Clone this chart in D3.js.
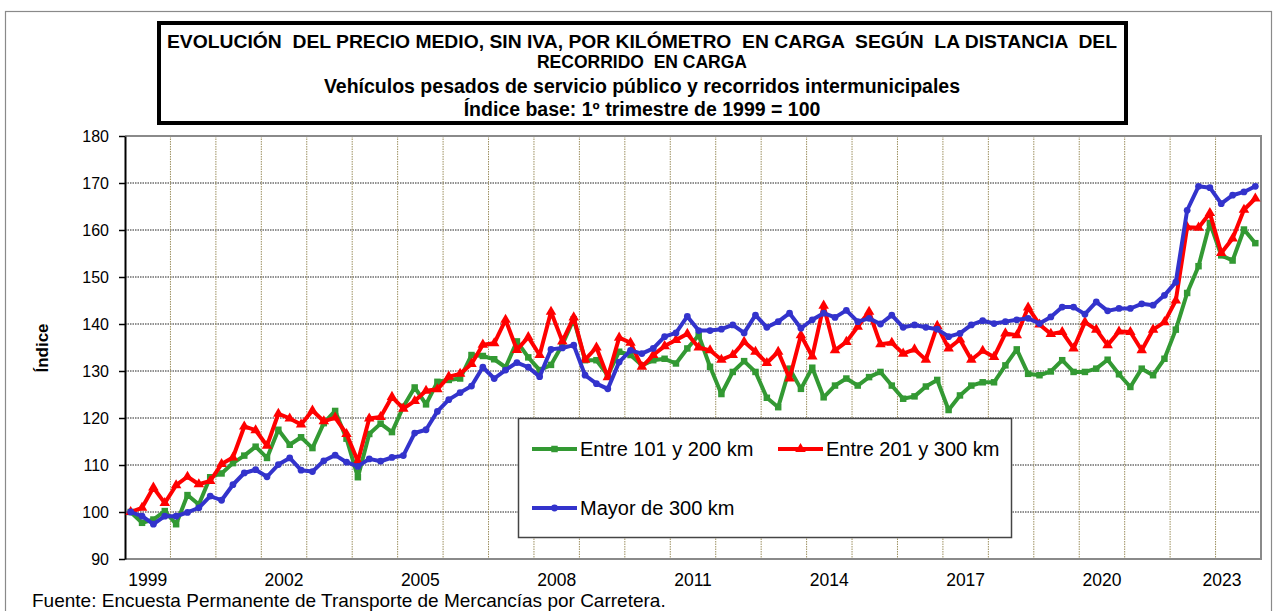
<!DOCTYPE html>
<html>
<head>
<meta charset="utf-8">
<script src="https://cdn.jsdelivr.net/npm/d3@7"></script>
<style>
  body { margin: 0; background: #fff; }
  svg { display: block; }
  text { font-family: Arial, "Liberation Sans", sans-serif; }
  .title { white-space: pre; }
</style>
</head>
<body>
<svg id="chart" width="1277" height="611"></svg>
<script>
// Years and quarters of the series (1999 T1 – 2023 T4)
const years = [1999, 2000, 2001, 2002, 2003, 2004, 2005, 2006, 2007, 2008, 2009, 2010,
               2011, 2012, 2013, 2014, 2015, 2016, 2017, 2018, 2019, 2020, 2021, 2022, 2023];
const quarterNames = ["T1", "T2", "T3", "T4"];
const tickYears = [1999, 2002, 2005, 2008, 2011, 2014, 2017, 2020, 2023];
const yTicks = [90, 100, 110, 120, 130, 140, 150, 160, 170, 180];

// Price index per km, base 1999 T1 = 100
const between101and200 = [
  100.0, 97.7, 98.4, 100.2, 97.4, 103.6, 101.6, 107.4, 108.2, 110.4,
  112.0, 113.9, 111.5, 117.5, 114.3, 115.9, 113.6, 118.9, 121.5, 115.6,
  107.4, 116.6, 118.8, 117.0, 122.4, 126.5, 122.9, 127.7, 128.1, 128.4,
  133.4, 133.2, 132.5, 130.8, 136.3, 132.9, 130.2, 131.3, 135.6, 141.0,
  132.3, 132.3, 129.1, 134.1, 133.4, 131.2, 132.3, 132.6, 131.6, 134.8,
  137.6, 130.9, 125.1, 129.8, 132.1, 129.8, 124.3, 122.3, 130.5, 126.2,
  130.7, 124.4, 126.9, 128.4, 126.9, 128.7, 129.8, 126.9, 124.1, 124.6,
  126.7, 128.1, 121.7, 124.8, 126.9, 127.6, 127.6, 131.2, 134.6, 129.4,
  129.1, 129.9, 132.3, 129.8, 129.8, 130.5, 132.4, 129.3, 126.6, 130.5,
  129.1, 132.6, 138.8, 146.6, 152.3, 161.5, 154.6, 153.5, 160.1, 157.2
];
const between201and300 = [
  100.0, 100.9, 105.2, 101.9, 105.7, 107.5, 105.9, 106.6, 110.2, 111.6,
  118.2, 117.4, 114.1, 120.9, 119.9, 118.6, 121.6, 119.3, 120.1, 116.6,
  110.8, 119.9, 120.2, 124.5, 122.0, 123.6, 125.8, 126.1, 128.8, 129.4,
  131.5, 135.6, 135.9, 140.9, 134.5, 137.2, 133.4, 142.6, 136.3, 141.4,
  132.4, 135.0, 128.7, 137.1, 136.0, 130.9, 133.4, 135.3, 136.6, 137.9,
  135.0, 134.4, 132.4, 133.4, 136.2, 134.1, 131.7, 134.1, 128.4, 137.6,
  133.1, 143.9, 134.4, 136.2, 139.4, 142.6, 135.7, 136.0, 133.7, 134.6,
  132.4, 139.6, 134.8, 136.7, 132.4, 134.3, 133.0, 138.0, 137.6, 143.5,
  139.9, 137.9, 138.3, 134.8, 140.4, 138.8, 135.5, 138.4, 138.3, 134.4,
  138.8, 140.4, 145.0, 160.6, 160.5, 163.6, 155.1, 158.2, 164.3, 166.7
];
const over300 = [
  100.0, 99.1, 97.4, 99.1, 99.1, 99.9, 100.9, 103.4, 102.5, 105.8,
  108.3, 109.0, 107.5, 110.1, 111.5, 108.9, 108.6, 110.9, 112.1, 110.6,
  109.7, 111.3, 110.8, 111.6, 112.0, 116.8, 117.5, 121.4, 123.9, 125.4,
  126.8, 130.8, 128.4, 130.2, 131.8, 130.8, 128.8, 134.6, 134.9, 135.5,
  129.1, 127.3, 126.2, 131.9, 134.4, 133.7, 134.8, 137.3, 138.1, 141.6,
  138.6, 138.6, 138.9, 139.8, 138.1, 141.9, 139.3, 140.5, 142.3, 139.1,
  140.9, 142.3, 141.4, 142.9, 140.5, 141.2, 140.0, 141.9, 139.3, 139.8,
  139.3, 138.9, 137.3, 138.0, 139.8, 140.7, 140.1, 140.5, 140.9, 141.2,
  140.1, 141.5, 143.6, 143.6, 142.1, 144.7, 142.8, 143.3, 143.3, 144.3,
  144.0, 146.1, 148.9, 164.2, 169.3, 169.0, 165.6, 167.4, 168.1, 169.3
];

const seriesNames = ["Entre 101 y 200 km", "Entre 201 y 300 km", "Mayor de 300 km"];
const seriesColors = ["#339933", "#ff0000", "#3333cc"];
const seriesValues = [between101and200, between201and300, over300];

const titleLines = [
  "EVOLUCIÓN  DEL PRECIO MEDIO, SIN IVA, POR KILÓMETRO  EN CARGA  SEGÚN  LA DISTANCIA  DEL",
  "RECORRIDO  EN CARGA",
  "Vehículos pesados de servicio público y recorridos intermunicipales",
  "Índice base: 1º trimestre de 1999 = 100"
];
const sourceNote = "Fuente: Encuesta Permanente de Transporte de Mercancías por Carretera.";

const categories = years.flatMap(yr => quarterNames.map(q => `${yr} ${q}`));

const svg = d3.select("#chart");
const plot = { left: 125, right: 1261, top: 136, bottom: 559 };

const x = d3.scaleBand().domain(categories).range([plot.left, plot.right]).paddingInner(0).paddingOuter(0);
const bw = x.bandwidth();
const cx = i => x(categories[i]) + bw / 2;
const y = d3.scaleLinear().domain([90, 180]).range([plot.bottom, plot.top]);

// Outer frame of the chart
svg.append("rect")
  .attr("x", 5.5).attr("y", 11.5).attr("width", 1266).attr("height", 640)
  .attr("fill", "none").attr("stroke", "#8a8a8a").attr("stroke-width", 1.2);

// Title box
svg.append("rect")
  .attr("x", 159).attr("y", 23).attr("width", 967).attr("height", 100)
  .attr("fill", "#fff").attr("stroke", "#000").attr("stroke-width", 4);

const titleY = [48, 68, 93, 116];
const titleSize = [17.5, 17.5, 19.5, 19.5];
svg.append("g").selectAll("text").data(titleLines).join("text")
  .attr("class", "title")
  .attr("x", 642).attr("y", (d, i) => titleY[i])
  .attr("text-anchor", "middle")
  .attr("font-size", (d, i) => titleSize[i]).attr("font-weight", "bold")
  .each(function (d, i) {
    if (i === 0) d3.select(this).attr("textLength", 950).attr("lengthAdjust", "spacingAndGlyphs");
  })
  .text(d => d);

// Horizontal gridlines
svg.append("g").selectAll("line").data(yTicks.filter(v => v > 90 && v < 180)).join("line")
  .attr("x1", plot.left).attr("x2", plot.right)
  .attr("y1", d => y(d)).attr("y2", d => y(d))
  .attr("stroke", "#222").attr("stroke-width", 1).attr("stroke-dasharray", "1.5,1");

// Vertical gridlines at each year boundary
svg.append("g").selectAll("line").data(years.slice(1)).join("line")
  .attr("x1", d => x(`${d} T1`)).attr("x2", d => x(`${d} T1`))
  .attr("y1", plot.top).attr("y2", plot.bottom)
  .attr("stroke", "#9d9060").attr("stroke-width", 1).attr("stroke-dasharray", "1.5,1");

// Plot area border (top, right, bottom)
svg.append("path")
  .attr("d", `M${plot.left},${plot.top}H${plot.right}V${plot.bottom}H${plot.left}`)
  .attr("fill", "none").attr("stroke", "#8a8a8a").attr("stroke-width", 2);

// Y axis
const yAxis = svg.append("g")
  .attr("transform", `translate(${plot.left},0)`)
  .call(d3.axisLeft(y).tickValues(yTicks).tickSize(6).tickPadding(10).tickSizeOuter(0));
yAxis.select(".domain").attr("stroke", "#000").attr("stroke-width", 2);
yAxis.selectAll(".tick line").attr("stroke", "#000").attr("stroke-width", 1.5);
yAxis.selectAll(".tick text").attr("font-size", 16).attr("fill", "#000")
  .attr("font-family", "Arial, 'Liberation Sans', sans-serif");

svg.append("text")
  .attr("transform", "translate(48,348) rotate(-90)")
  .attr("text-anchor", "middle")
  .attr("font-size", 17).attr("font-weight", "bold")
  .text("Índice");

// X axis labels (every three years)
svg.append("g").selectAll("text").data(tickYears).join("text")
  .attr("x", d => Math.min(x(`${d} T1`) + 2 * bw, plot.right - 39))
  .attr("y", 586)
  .attr("text-anchor", "middle")
  .attr("font-size", 17.5)
  .text(d => d);

// Series lines and markers
const line = d3.line().x((d, i) => cx(i)).y(d => y(d));
const markerShapes = [d3.symbolSquare, d3.symbolTriangle, d3.symbolCircle];
const markerSizes = [42, 48, 36];

seriesValues.forEach((vals, s) => {
  const g = svg.append("g");
  g.append("path").datum(vals)
    .attr("d", line)
    .attr("fill", "none")
    .attr("stroke", seriesColors[s])
    .attr("stroke-width", 4)
    .attr("stroke-linejoin", "round");
  g.selectAll("path.mk").data(vals).join("path")
    .attr("class", "mk")
    .attr("transform", (d, i) => `translate(${cx(i)},${y(d)})`)
    .attr("d", d3.symbol().type(markerShapes[s]).size(markerSizes[s]))
    .attr("fill", seriesColors[s]);
});

// Legend
const legend = svg.append("g");
legend.append("rect")
  .attr("x", 518.5).attr("y", 418.5).attr("width", 493).attr("height", 119)
  .attr("fill", "#fff").attr("stroke", "#444").attr("stroke-width", 1.5);
const legendItems = [
  { s: 0, x: 532, y: 449 },
  { s: 1, x: 778, y: 449 },
  { s: 2, x: 532, y: 508 }
];
legendItems.forEach(it => {
  legend.append("line")
    .attr("x1", it.x).attr("x2", it.x + 45).attr("y1", it.y).attr("y2", it.y)
    .attr("stroke", seriesColors[it.s]).attr("stroke-width", 4);
  legend.append("path")
    .attr("transform", `translate(${it.x + 22.5},${it.y})`)
    .attr("d", d3.symbol().type(markerShapes[it.s]).size(markerSizes[it.s]))
    .attr("fill", seriesColors[it.s]);
  legend.append("text")
    .attr("x", it.x + 48).attr("y", it.y + 7)
    .attr("font-size", 20)
    .text(seriesNames[it.s]);
});

// Source note
svg.append("text")
  .attr("x", 32).attr("y", 607)
  .attr("font-size", 19)
  .text(sourceNote);
</script>
</body>
</html>
